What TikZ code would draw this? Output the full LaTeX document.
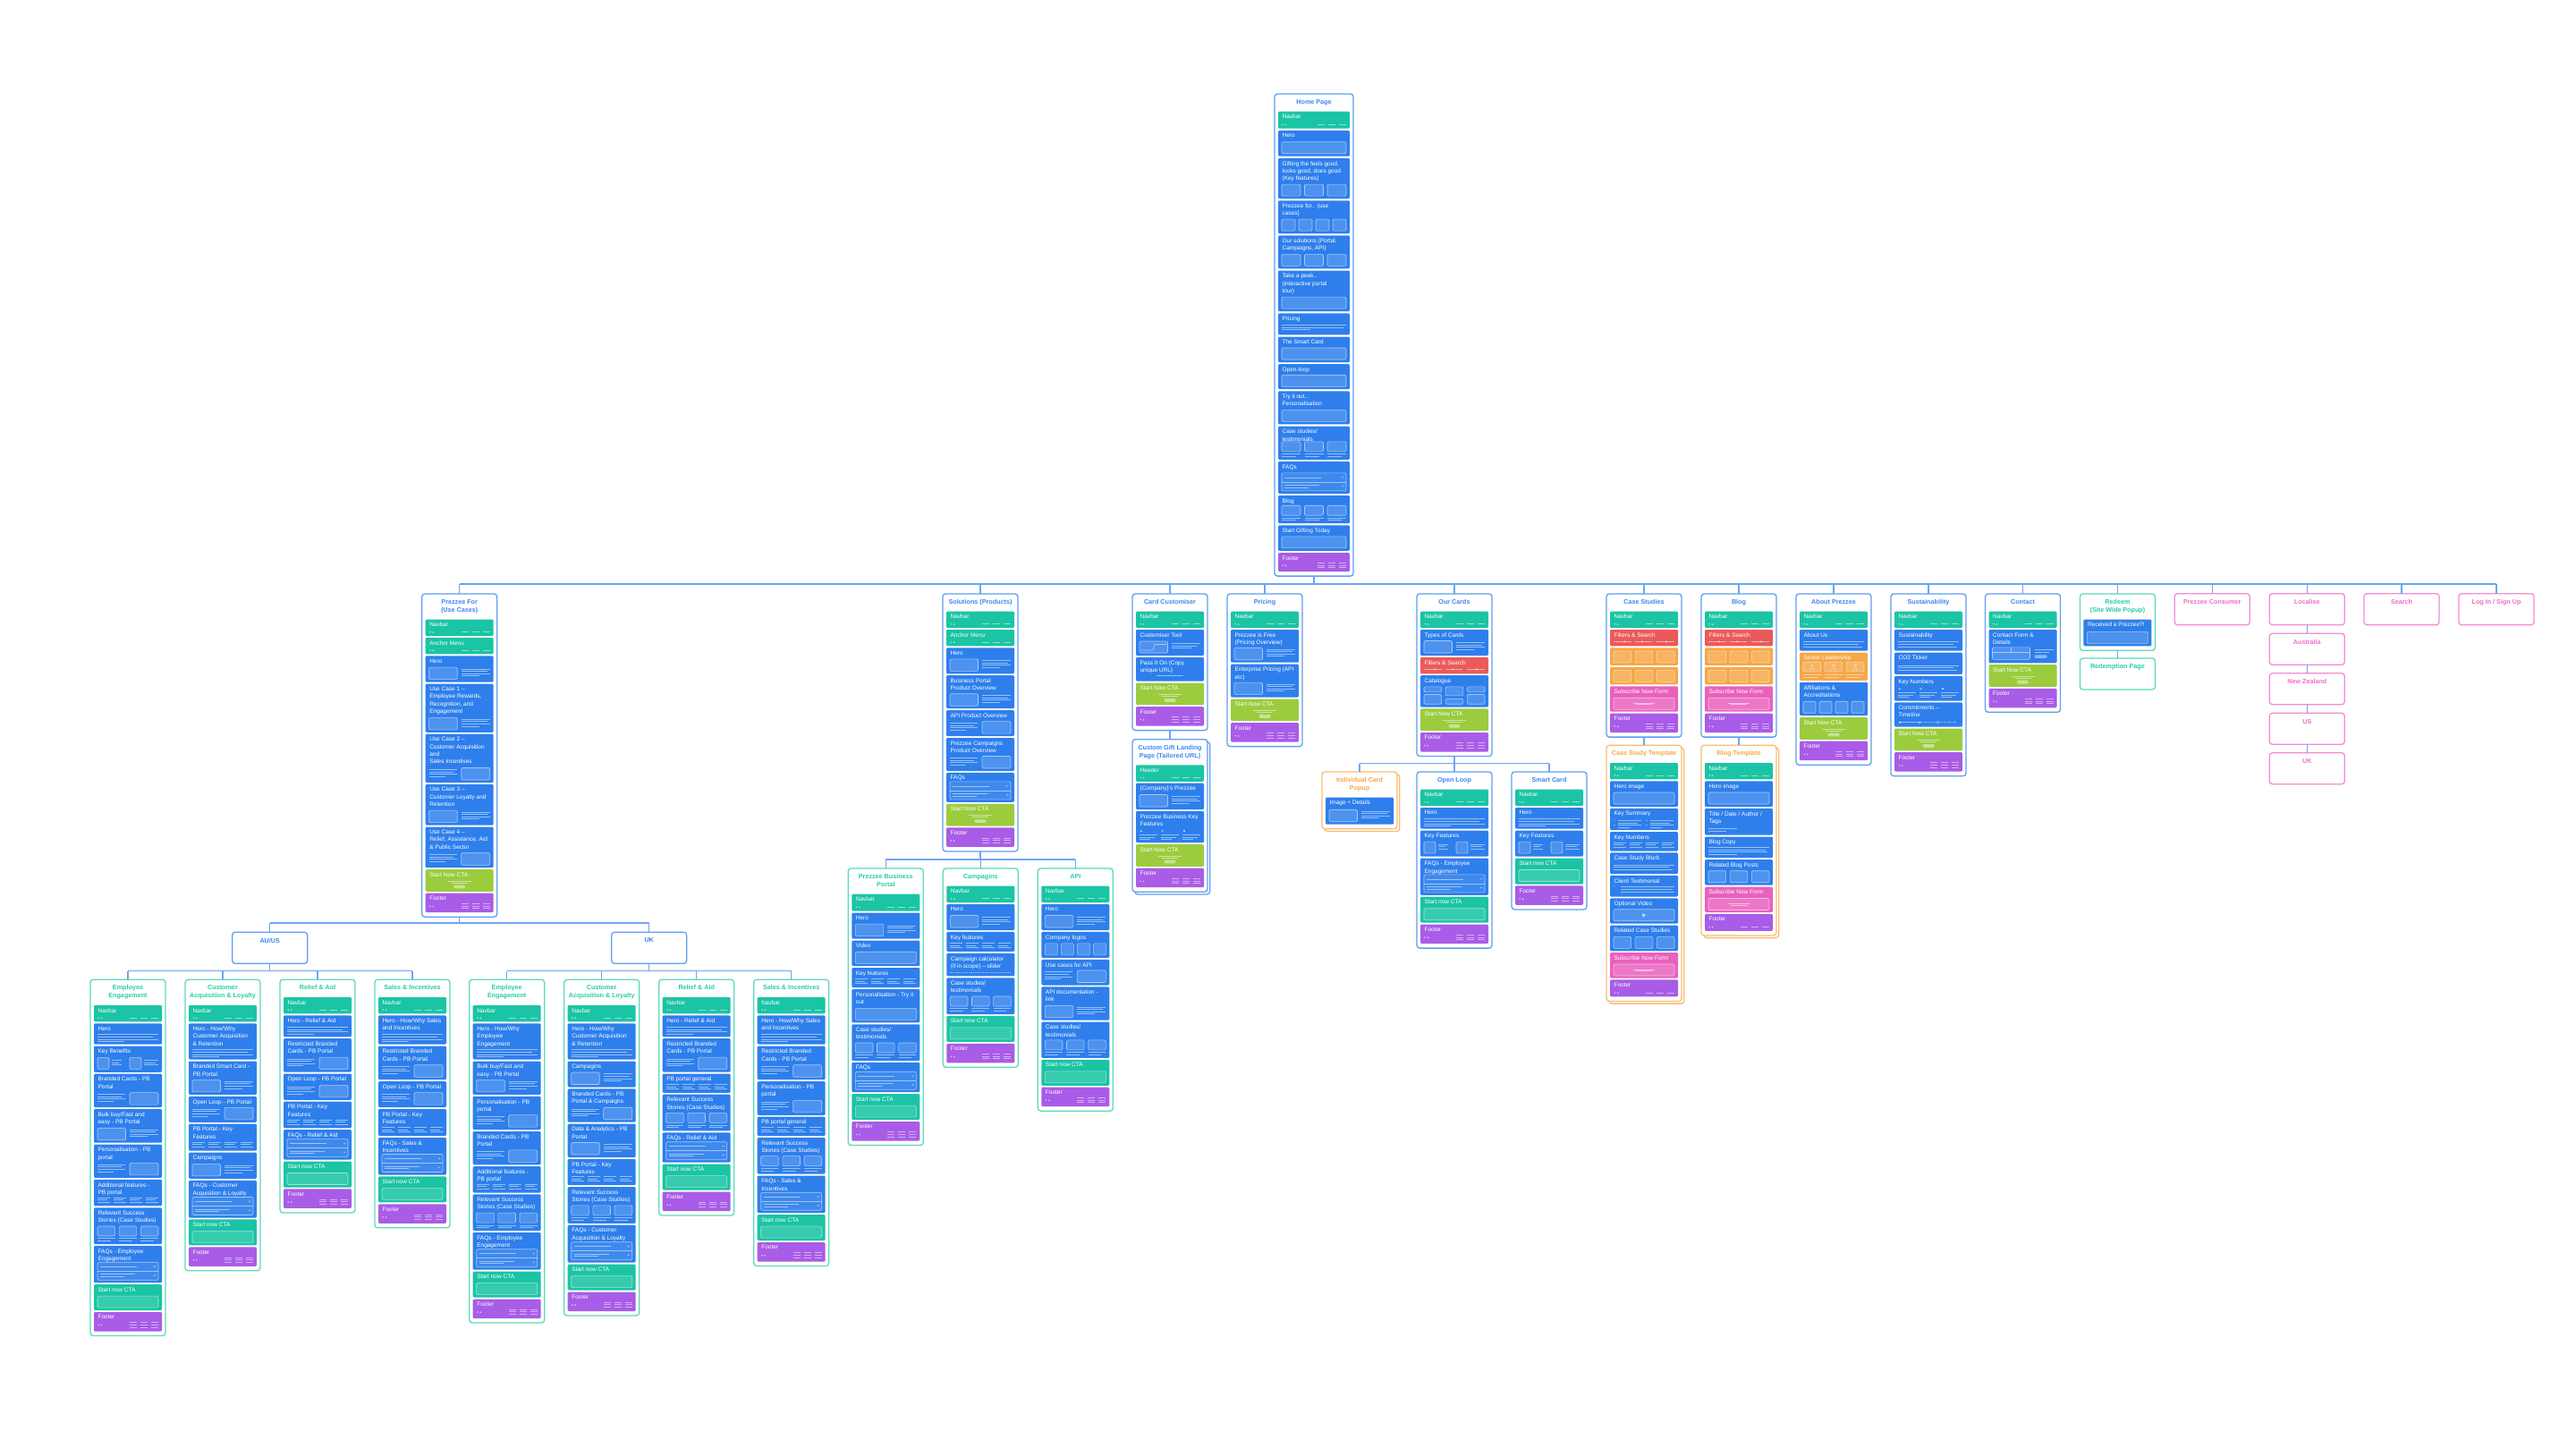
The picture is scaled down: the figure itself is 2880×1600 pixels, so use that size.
\documentclass[tikz,border=0pt]{standalone}
\usepackage{fontspec}
\setmainfont{Liberation Sans}
\usetikzlibrary{backgrounds}
\definecolor{sg}{RGB}{27,196,164}
\definecolor{sb}{RGB}{46,127,236}
\definecolor{sl}{RGB}{155,204,62}
\definecolor{spu}{RGB}{169,92,231}
\definecolor{sr}{RGB}{235,90,90}
\definecolor{so}{RGB}{246,168,72}
\definecolor{spi}{RGB}{234,96,190}
\definecolor{bdb}{RGB}{95,158,242}
\definecolor{bdt}{RGB}{90,218,190}
\definecolor{bdo}{RGB}{249,188,115}
\definecolor{bdp}{RGB}{242,140,212}
\definecolor{ttb}{RGB}{60,134,240}
\definecolor{ttt}{RGB}{40,204,166}
\definecolor{tto}{RGB}{246,168,72}
\definecolor{ttp}{RGB}{238,108,200}
\definecolor{cn}{RGB}{110,165,242}
\newcommand\secfont{\fontsize{6.5}{8.3}\selectfont}
\newcommand\ttlfont{\fontsize{7.2}{9}\selectfont\bfseries}
\tikzset{
 stx/.style={anchor=north west, inner sep=0, align=left, font=\secfont, text=white},
 ttl/.style={anchor=north, inner sep=0, align=center, font=\ttlfont},
 cardb/.style={line width=1.3, rounded corners=3.2},
 conn/.style={draw=cn, line width=1.4},
 dl/.style={draw=white, draw opacity=.5, line width=.6},
 db/.style={draw=white, draw opacity=.55, line width=.6, fill=white, fill opacity=.15, rounded corners=1.3},
}
\def\CW{84}\def\sgap{1.9}
\newcommand\CardBegin[7]{%
 \xdef\cname{#1}\xdef\ckind{#2}\xdef\crdx{#3}\xdef\crdyt{#4}\xdef\cstk{#7}%
 \xdef\secL{\fpeval{#3+4}}\xdef\secR{\fpeval{#3+\CW-4}}\xdef\sw{\fpeval{\CW-8}}%
 \xdef\crdy{\fpeval{#4+10.7+9*#6}}%
 \node[ttl, text=tt#2] at ({#3+\CW/2},{#4+6}) {#5};%
}
\newcommand\SEC[4]{%
 \xdef\secT{\crdy}\xdef\secB{\fpeval{\crdy+#2}}%
 \fill[fill=#1, rounded corners=1.2] (\secL,\secT) rectangle (\secR,\secB);%
 \node[stx] at ({\secL+4.4},{\secT+3.3}) {#3};%
 \begin{scope}[shift={(\secL,\secB)}]#4\end{scope}%
 \xdef\crdy{\fpeval{\secB+\sgap}}%
}
\newcommand\CardEnd{%
 \xdef\crdyb{\fpeval{\crdy-\sgap+5}}\xdef\crdh{\fpeval{\crdyb-\crdyt}}%
 \begin{scope}[on background layer]%
 \ifnum\cstk=1 \draw[cardb, draw=bd\ckind, fill=white] ({\crdx+2.7},{\crdyt+2.7}) rectangle ({\crdx+\CW+2.7},{\crdyb+2.7});\fi
 \draw[cardb, draw=bd\ckind, fill=white] (\crdx,\crdyt) rectangle ({\crdx+\CW},\crdyb);%
 \end{scope}%
 \node[inner sep=0, outer sep=0, minimum width=\CW pt, minimum height=\crdh pt, anchor=north west] (\cname) at (\crdx,\crdyt) {};%
}
\newcommand\BOX[5]{%
 \begin{scope}[on background layer]\draw[cardb, draw=bd#2, fill=white] (#3,#4) rectangle ({#3+84},{#4+35});\end{scope}%
 \node[ttl, text=tt#2] at ({#3+42},{#4+6.5}) {#5};%
 \node[inner sep=0, outer sep=0, minimum width=84pt, minimum height=35pt, anchor=north west] (#1) at (#3,#4) {};%
}
% decorations (origin = bottom-left of section, negative y = up)
\newcommand\dNav{%
 \fill[white,opacity=.6] (5.2,-4.4) circle (.9);
 \fill[white,opacity=.6] (7.5,-3.5) -- (9.7,-3.5) -- (8.6,-5.3) -- cycle;
 \draw[dl] ({\sw-36},-4.4) -- ({\sw-28},-4.4) ({\sw-24},-4.4) -- ({\sw-16},-4.4) ({\sw-12},-4.4) -- ({\sw-4},-4.4);}
\newcommand\dFoot{%
 \fill[white,opacity=.6] (5.2,-7) circle (.9);
 \fill[white,opacity=.6] (7.5,-6.1) -- (9.7,-6.1) -- (8.6,-7.9) -- cycle;
 \foreach \q in {36,24,12}{\draw[dl] ({\sw-\q},-10) -- ({\sw-\q+8},-10) ({\sw-\q},-7.3) -- ({\sw-\q+8},-7.3) ({\sw-\q},-4.6) -- ({\sw-\q+8},-4.6);}}
\newcommand\dCta{%
 \draw[dl] ({\sw/2-13},-12) -- ({\sw/2+13},-12) ({\sw/2-9},-9.8) -- ({\sw/2+9},-9.8);
 \fill[white,opacity=.45,rounded corners=1.4] ({\sw/2-6.5},-3.4) rectangle ({\sw/2+6.5},-7.2);}
\newcommand\dCtaBox{\draw[db, fill opacity=.12] (4,-3) rectangle ({\sw-4},-16);}
\newcommand\dBox{\draw[db] (4,-3) rectangle ({\sw-4},-16);}
\newcommand\dBoxLines{\draw[db] (4,-3) rectangle (35.5,-16.5);
 \draw[dl] (40,-14.8) -- ({\sw-4},-14.8) (40,-12.2) -- ({\sw-7},-12.2) (40,-9.6) -- ({\sw-4},-9.6) (40,-7) -- ({\sw-16},-7);}
\newcommand\dLinesBox{\draw[db] (40,-3) rectangle ({\sw-4},-16.5);
 \draw[dl] (4,-14.8) -- (35,-14.8) (4,-12.2) -- (31,-12.2) (4,-9.6) -- (35,-9.6) (4,-7) -- (22,-7);}
\newcommand\dLines{\draw[dl] (4,-11) -- ({\sw-4},-11) (4,-8.3) -- ({\sw-10},-8.3) (4,-5.6) -- ({\sw-4},-5.6) (4,-3) -- (34,-3);}
\newcommand\dLinesThree{\draw[dl] (4,-10) -- ({\sw-4},-10) (4,-7.3) -- ({\sw-10},-7.3) (4,-4.6) -- ({\sw-6},-4.6);}
\newcommand\dLinesFour{\draw[dl] (4,-12) -- ({\sw-4},-12) (4,-9.4) -- ({\sw-8},-9.4) (4,-6.8) -- ({\sw-6},-6.8) (4,-4.2) -- (36,-4.2);}
\newcommand\dPricing{\draw[dl] (4,-11) -- ({\sw-4},-11) (4,-8.4) -- ({\sw-7},-8.4) (4,-5.8) -- (36,-5.8);}
\newcommand\dBoxesThree{\foreach \i in {0,1,2}{\pgfmathsetmacro\xa{4+\i*((\sw-17)/3+4.5)}\draw[db] (\xa,-3) rectangle ({\xa+(\sw-17)/3},-16);}}
\newcommand\dBoxesThreeL{\foreach \i in {0,1,2}{\pgfmathsetmacro\xa{4+\i*((\sw-17)/3+4.5)}\pgfmathsetmacro\xb{\xa+(\sw-17)/3}\draw[db] (\xa,-9) rectangle (\xb,-20);\draw[dl] (\xa,-6.3) -- (\xb,-6.3) (\xa,-3.7) -- ({\xb-5},-3.7);}}
\newcommand\dBoxesFour{\foreach \i in {0,...,3}{\pgfmathsetmacro\xa{4+\i*((\sw-20)/4+4)}\draw[db] (\xa,-3) rectangle ({\xa+(\sw-20)/4},-16);}}
\newcommand\dColsFour{\foreach \i in {0,...,3}{\pgfmathsetmacro\xa{4+\i*((\sw-20)/4+4)}\pgfmathsetmacro\xb{\xa+(\sw-20)/4}\draw[dl] (\xa,-9.5) -- (\xb,-9.5) (\xa,-7) -- ({\xb-3},-7) (\xa,-4.5) -- (\xb,-4.5);}}
\newcommand\dFaq{\draw[db, fill opacity=.08] (4,-3) rectangle ({\sw-4},-23);
 \draw[dl] (4,-13) -- ({\sw-4},-13);
 \draw[dl] (7,-18) -- (48,-18) (7,-9.6) -- (46,-9.6) (7,-7) -- (34,-7);
 \draw[dl] ({\sw-9.2},-18.8) -- ({\sw-8},-17.6) -- ({\sw-6.8},-18.8);
 \draw[dl] ({\sw-9.2},-7.6) -- ({\sw-8},-8.8) -- ({\sw-6.8},-7.6);}
\newcommand\dFilter{\draw[dl] (4,-5) -- (24,-5) (28,-5) -- (47,-5) (52,-5) -- ({\sw-4},-5);
 \fill[white,opacity=.75] (16,-5) circle (1) (36,-5) circle (1) (63,-5) circle (1);}
\newcommand\dForm{\draw[db] (4,-2.5) rectangle ({\sw-4},-15.5);
 \draw[dl] ({\sw/2-12},-9.7) -- ({\sw/2+12},-9.7) ({\sw/2-9},-8) -- ({\sw/2+9},-8);}
\newcommand\dPeople{\foreach \i in {0,1,2}{\pgfmathsetmacro\xa{4+\i*((\sw-17)/3+4.5)}\pgfmathsetmacro\xb{\xa+(\sw-17)/3}\pgfmathsetmacro\xm{(\xa+\xb)/2}
 \draw[db] (\xa,-10) rectangle (\xb,-20.5);
 \draw[dl] (\xm,-16.8) circle (1.5);
 \draw[dl] ({\xm-3.2},-11) arc[start angle=180, end angle=360, x radius=3.2, y radius=2.6];
 \draw[dl] (\xa,-6.6) -- (\xb,-6.6) (\xa,-4.1) -- ({\xb-4},-4.1);}}
\newcommand\dTimeline{\draw[dl] (6,-5) -- (27,-5);
 \draw[dl, dash pattern=on 1.5pt off 1pt] (29,-5) -- (46.5,-5) (50,-5) -- (66,-5);
 \fill[white,opacity=.6] (6,-5) circle (1.3) (28,-5) circle (1.3);
 \draw[dl] (48.3,-5) circle (1.4); \draw[dl] (67,-6.3) -- (68.3,-5) -- (67,-3.7);}
\newcommand\dVideo{\draw[db] (4,-3) rectangle ({\sw-4},-16);
 \fill[white,opacity=.65] ({\sw/2-1.6},-7.3) -- ({\sw/2-1.6},-11.7) -- ({\sw/2+2.2},-9.5) -- cycle;}
\newcommand\dQuote{\node[text=white, text opacity=.7, font=\fontsize{6}{6}\selectfont, inner sep=0, anchor=north west] at (3.5,-12) {``};
 \draw[dl] (12,-11) -- ({\sw-4},-11) (12,-8.3) -- ({\sw-6},-8.3) (12,-5.6) -- ({\sw-4},-5.6);}
\newcommand\dBullets{\foreach \cc in {4,40}{\fill[white,opacity=.6] ({\cc+1},-11) circle (.7) ({\cc+1},-5.6) circle (.7);
 \draw[dl] ({\cc+5},-11) -- ({\cc+31},-11) ({\cc+5},-8.3) -- ({\cc+27},-8.3) ({\cc+5},-5.6) -- ({\cc+31},-5.6) ({\cc+5},-3) -- ({\cc+18},-3);}}
\newcommand\dIconsThree{\foreach \i in {0,1,2}{\pgfmathsetmacro\xa{4+\i*((\sw-16)/3+4)}\pgfmathsetmacro\xb{\xa+(\sw-16)/3}\draw[dl] (\xa,-9) -- (\xb,-9) (\xa,-6.4) -- ({\xb-3},-6.4) (\xa,-3.8) -- ({\xb-8},-3.8);}
 \fill[white,opacity=.6] (4.5,-12.4) -- (7,-12.4) -- (5.75,-14.6) -- cycle;
 \draw[dl] ({4+(\sw-16)/3+4.5},-12.4) -- ++(2,-2) ({4+(\sw-16)/3+4.5},-14.4) -- ++(2,2);
 \fill[white,opacity=.6] ({4+2*((\sw-16)/3+4)+0.5},-12.4) rectangle ++(2,-2);}
\newcommand\dKeyFeat{\draw[db] (4,-3.5) rectangle (17,-16.5);
 \draw[dl] (20,-13.5) -- (31,-13.5) (20,-11) -- (28,-11) (20,-8.5) -- (31,-8.5);
 \draw[db] (40,-3.5) rectangle (53,-16.5);
 \draw[dl] (56,-13.5) -- ({\sw-4},-13.5) (56,-11) -- ({\sw-7},-11) (56,-8.5) -- ({\sw-4},-8.5);}
\newcommand\dStep{\draw[db] (4,-3) rectangle (35.5,-16);
 \draw[dl] (6,-6) -- (19,-6) -- (21,-12.5) -- (34,-12.5);
 \draw[dl] (40,-13.8) -- ({\sw-4},-13.8) (40,-11.2) -- ({\sw-8},-11.2) (40,-8.6) -- ({\sw-14},-8.6);}
\newcommand\dCenterLine{\draw[dl] ({\sw/2-15},-6) -- ({\sw/2+15},-6);}
\newcommand\dTitleLines{\draw[dl] (4,-7) -- (36,-7) (4,-4.5) -- (24,-4.5);}
\newcommand\dContact{\draw[db] (4,-4) rectangle (46,-17.5);
 \draw[dl] (4,-12.5) -- (46,-12.5) (25,-17.5) -- (25,-12.5);
 \draw[dl] (51,-15) -- ({\sw-4},-15) (51,-12.5) -- ({\sw-9},-12.5);
 \fill[white,opacity=.45,rounded corners=1.2] (51,-5.5) rectangle (65,-9);}
\newcommand\dDash{\draw[dl, dash pattern=on 1.3pt off 1pt] (4,-4.5) -- ({\sw-4},-4.5);}
\newcommand\dCatalogue{\foreach \i in {0,1,2}{\pgfmathsetmacro\xa{4+\i*((\sw-17)/3+4.5)}\pgfmathsetmacro\xb{\xa+(\sw-17)/3}%
 \ifnum\i=1 \draw[db] (\xa,-12.6) rectangle (\xb,-22.6); \draw[db] (\xa,-3.3) rectangle (\xb,-9.3);%
 \else \draw[db] (\xa,-16.6) rectangle (\xb,-22.6); \draw[db] (\xa,-3.3) rectangle (\xb,-14);\fi}}
% section shortcuts
\newcommand\Nav[1][Navbar]{\SEC{sg}{18.4}{#1}{\dNav}}
\newcommand\Anc{\SEC{sg}{18.4}{Anchor Menu}{\dNav}}
\newcommand\Foot{\SEC{spu}{21.5}{Footer}{\dFoot}}
\newcommand\FootD{\SEC{spu}{19}{Footer}{\dNav}}
\newcommand\CtaL{\SEC{sl}{24.7}{Start Now CTA}{\dCta}}
\newcommand\CtaT{\SEC{sg}{29}{Start now CTA}{\dCtaBox}}
\newcommand\Blu[3]{\SEC{sb}{#1}{#2}{#3}}
\begin{document}
\begin{tikzpicture}[x=1pt,y=-1pt]
\useasboundingbox (0,0) rectangle (2880,1600);
\begin{scope}[on background layer]\fill[white] (0,0) rectangle (2880,1600);\end{scope}

% ---------- Home ----------
\def\CW{88}\def\sgap{2.2}
\CardBegin{home}{b}{1425}{105}{Home Page}{1}{0}
\SEC{sg}{19}{Navbar}{\dNav}
\Blu{28.8}{Hero}{\dBox}
\Blu{45.2}{Gifting the feels good,\\looks good, does good\\(Key features)}{\dBoxesThree}
\Blu{36.8}{Prezzee for.. (use\\cases)}{\dBoxesFour}
\Blu{37}{Our solutions (Portal,\\Campaigns, API)}{\dBoxesThree}
\Blu{45.6}{Take a peek..\\(interactive portal\\tour)}{\dBox}
\Blu{24}{Pricing}{\dPricing}
\Blu{28.5}{The Smart Card}{\dBox}
\Blu{28}{Open-loop}{\dBox}
\Blu{37}{Try it out...\\Personalisation}{\dBox}
\Blu{37.2}{Case studies/\\testimonials}{\dBoxesThreeL}
\Blu{35.8}{FAQs}{\dFaq}
\Blu{31.2}{Blog}{\dBoxesThreeL}
\Blu{28.5}{Start Gifting Today}{\dBox}
\SEC{spu}{21}{Footer}{\dFoot}
\CardEnd
\def\CW{84}\def\sgap{1.9}

% ---------- Level 1 ----------
\CardBegin{proc}{b}{471.7}{664}{Prezzee For\\(Use Cases)}{2}{0}
\Nav\Anc
\Blu{29.3}{Hero}{\dBoxLines}
\Blu{54.3}{Use Case 1 –\\Employee Rewards,\\Recognition, and\\Engagement}{\dBoxLines}
\Blu{54.3}{Use Case 2 –\\Customer Acquisition\\and\\Sales Incentives}{\dLinesBox}
\Blu{45.7}{Use Case 3 –\\Customer Loyalty and\\Retention}{\dBoxLines}
\Blu{45.7}{Use Case 4 –\\Relief, Assistance, Aid\\\& Public Sector}{\dLinesBox}
\CtaL\Foot
\CardEnd

\CardBegin{sol}{b}{1054}{664}{Solutions (Products)}{1}{0}
\Nav\Anc
\Blu{29}{Hero}{\dBoxLines}
\Blu{37}{Business Portal\\Product Overview}{\dBoxLines}
\Blu{29}{API Product Overview}{\dLinesBox}
\Blu{37}{Prezzee Campaigns\\Product Overview}{\dLinesBox}
\Blu{33}{FAQs}{\dFaq}
\CtaL\Foot
\CardEnd

\CardBegin{cust}{b}{1266}{664}{Card Customiser}{1}{0}
\Nav
\Blu{29}{Customiser Tool}{\dStep}
\Blu{26.7}{Pass It On (Copy\\unique URL)}{\dCenterLine}
\CtaL\Foot
\CardEnd

\CardBegin{gift}{b}{1266}{826.7}{Custom Gift Landing\\Page (Tailored URL)}{2}{1}
\Nav[Header]
\Blu{29.3}{\{Company\}'s Prezzee}{\dBoxLines}
\Blu{35.3}{Prezzee Business Key\\Features}{\dIconsThree}
\CtaL\Foot
\CardEnd

\CardBegin{price}{b}{1372}{664}{Pricing}{1}{0}
\Nav
\Blu{36.7}{Prezzee is Free\\(Pricing Overview)}{\dBoxLines}
\Blu{37}{Enterprise Pricing (API\\etc)}{\dBoxLines}
\CtaL\Foot
\CardEnd

\CardBegin{cards}{b}{1584}{664}{Our Cards}{1}{0}
\Nav
\Blu{29}{Types of Cards}{\dBoxLines}
\SEC{sr}{18.4}{Filters \& Search}{\dFilter}
\Blu{35.3}{Catalogue}{\dCatalogue}
\CtaL\Foot
\CardEnd

\CardBegin{indiv}{o}{1478}{863}{Individual Card\\Popup}{2}{1}
\Blu{30}{Image + Details}{\dBoxLines}
\CardEnd

\CardBegin{open}{b}{1584}{863}{Open Loop}{1}{0}
\Nav
\Blu{23.7}{Hero}{\dLines}
\Blu{29}{Key Features}{\dKeyFeat}
\Blu{41.3}{FAQs - Employee\\Engagement}{\dFaq}
\CtaT\Foot
\CardEnd

\CardBegin{smart}{b}{1690}{863}{Smart Card}{1}{0}
\Nav
\Blu{23.7}{Hero}{\dLines}
\Blu{29}{Key Features}{\dKeyFeat}
\CtaT\Foot
\CardEnd

\CardBegin{cases}{b}{1796}{664}{Case Studies}{1}{0}
\Nav
\SEC{sr}{18.4}{Filters \& Search}{\dFilter}
\SEC{so}{19.6}{}{\dBoxesThree}
\SEC{so}{19.6}{}{\dBoxesThree}
\SEC{spi}{28.4}{Subscribe Now Form}{\dForm}
\Foot
\CardEnd

\CardBegin{blog}{b}{1902}{664}{Blog}{1}{0}
\Nav
\SEC{sr}{18.4}{Filters \& Search}{\dFilter}
\SEC{so}{19.6}{}{\dBoxesThree}
\SEC{so}{19.6}{}{\dBoxesThree}
\SEC{spi}{28.4}{Subscribe Now Form}{\dForm}
\Foot
\CardEnd

\CardBegin{cst}{o}{1796}{833.3}{Case Study Template}{1}{1}
\Nav
\Blu{28.7}{Hero image}{\dBox}
\Blu{24.3}{Key Summary}{\dBullets}
\Blu{21.4}{Key Numbers}{\dColsFour}
\Blu{23.6}{Case Study Blurb}{\dLinesThree}
\Blu{23.6}{Client Testimonial}{\dQuote}
\Blu{28.3}{Optional Video}{\dVideo}
\Blu{28.7}{Related Case Studies}{\dBoxesThree}
\SEC{spi}{28.3}{Subscribe Now Form}{\dForm}
\FootD
\CardEnd

\CardBegin{bt}{o}{1902}{833.3}{Blog Template}{1}{1}
\Nav
\Blu{28.7}{Hero image}{\dBox}
\Blu{29.7}{Title / Date / Author /\\Tags}{\dTitleLines}
\Blu{23.7}{Blog Copy}{\dLinesFour}
\Blu{28.6}{Related Blog Posts}{\dBoxesThree}
\SEC{spi}{28.4}{Subscribe Now Form}{\dForm}
\FootD
\CardEnd

\CardBegin{about}{b}{2008}{664}{About Prezzee}{1}{0}
\Nav
\Blu{23.7}{About Us}{\dLinesThree}
\SEC{so}{31.3}{Senior Leadership}{\dPeople}
\Blu{37.4}{Affiliations \&\\Accreditations}{\dBoxesFour}
\CtaL\Foot
\CardEnd

\CardBegin{sust}{b}{2114}{664}{Sustainability}{1}{0}
\Nav
\Blu{23.7}{Sustainability}{\dLinesThree}
\Blu{24.3}{CO2 Ticker}{\dLinesThree}
\Blu{27.7}{Key Numbers}{\dIconsThree}
\Blu{27.3}{Commitments –\\Timeline}{\dTimeline}
\CtaL\Foot
\CardEnd

\CardBegin{contact}{b}{2219.5}{664}{Contact}{1}{0}
\Nav
\Blu{37.3}{Contact Form \&\\Details}{\dContact}
\CtaL\Foot
\CardEnd

\CardBegin{redeem}{t}{2325.4}{664}{Redeem\\(Site Wide Popup)}{2}{0}
\Blu{29.6}{Received a Prezzee?!}{\dBox}
\CardEnd
\BOX{redpage}{t}{2325.4}{736}{Redemption Page}

\BOX{consumer}{p}{2431.3}{663.7}{Prezzee Consumer}
\BOX{local}{p}{2537.3}{663.7}{Localise}
\BOX{search}{p}{2643}{663.7}{Search}
\BOX{login}{p}{2749}{663.7}{Log In / Sign Up}
\BOX{aus}{p}{2537.3}{708.3}{Australia}
\BOX{nz}{p}{2537.3}{752.7}{New Zealand}
\BOX{us}{p}{2537.3}{797.3}{US}
\BOX{ukl}{p}{2537.3}{841.7}{UK}

% ---------- Solutions children ----------
\CardBegin{pbp}{t}{948.3}{971}{Prezzee Business\\Portal}{2}{0}
\SEC{sg}{19}{Navbar}{\dNav}
\Blu{29}{Hero}{\dBoxLines}
\Blu{28.7}{Video}{\dBox}
\Blu{22}{Key features}{\dColsFour}
\Blu{37.4}{Personalisation - Try it\\out}{\dBox}
\Blu{40.7}{Case studies/\\testimonials}{\dBoxesThreeL}
\Blu{33.3}{FAQs}{\dFaq}
\CtaT\Foot
\CardEnd

\CardBegin{camp}{t}{1054.3}{971}{Campagins}{1}{0}
\Nav
\Blu{29}{Hero}{\dBoxLines}
\Blu{22}{Key features}{\dColsFour}
\Blu{25.6}{Campaign calculator\\(if in scope) – slider}{\dDash}
\Blu{40.7}{Case studies/\\testimonials}{\dBoxesThreeL}
\CtaT\Foot
\CardEnd

\CardBegin{api}{t}{1160.3}{971}{API}{1}{0}
\Nav
\Blu{29}{Hero}{\dBoxLines}
\Blu{29}{Company logos}{\dBoxesFour}
\Blu{28.7}{Use cases for API}{\dLinesBox}
\Blu{37.3}{API documentation -\\link}{\dBoxLines}
\Blu{40.3}{Case studies/\\testimonials}{\dBoxesThreeL}
\CtaT\Foot
\CardEnd

% ---------- Use case regions ----------
\BOX{auus}{b}{259.7}{1042.3}{AU/US}
\BOX{ukg}{b}{683.7}{1042.3}{UK}

\CardBegin{a1}{t}{101}{1095.3}{Employee\\Engagement}{2}{0}
\Nav
\Blu{23.3}{Hero}{\dLines}
\Blu{29.3}{Key Benefits}{\dKeyFeat}
\Blu{37.4}{Branded Cards - PB\\Portal}{\dLinesBox}
\Blu{37.7}{Bulk buy/Fast and\\easy - PB Portal}{\dBoxLines}
\Blu{37.3}{Personalisation - PB\\portal}{\dLinesBox}
\Blu{29.6}{Additional features -\\PB portal}{\dColsFour}
\Blu{40.7}{Relevant Success\\Stories (Case Studies)}{\dBoxesThreeL}
\Blu{41.3}{FAQs - Employee\\Engagement}{\dFaq}
\CtaT\Foot
\CardEnd

\CardBegin{a2}{t}{207}{1095.3}{Customer\\Acquisition \& Loyalty}{2}{0}
\Nav
\Blu{40.3}{Hero - How/Why\\Customer Acquisition\\\& Retention}{\dLines}
\Blu{37.4}{Branded Smart Card -\\PB Portal}{\dBoxLines}
\Blu{29}{Open Loop - PB Portal}{\dLinesBox}
\Blu{30}{PB Portal - Key\\Features}{\dColsFour}
\Blu{29.3}{Campaigns}{\dBoxLines}
\Blu{41.7}{FAQs - Customer\\Acquisition \& Loyalty}{\dFaq}
\CtaT\Foot
\CardEnd

\CardBegin{a3}{t}{313}{1095.3}{Relief \& Aid}{1}{0}
\Nav
\Blu{24}{Hero - Relief \& Aid}{\dLines}
\Blu{37.4}{Restricted Branded\\Cards - PB Portal}{\dLinesBox}
\Blu{29.3}{Open Loop - PB Portal}{\dLinesBox}
\Blu{29.6}{PB Portal - Key\\Features}{\dColsFour}
\Blu{33.4}{FAQs - Relief \& Aid}{\dFaq}
\CtaT\Foot
\CardEnd

\CardBegin{a4}{t}{419}{1095.3}{Sales \& Incentives}{1}{0}
\Nav
\Blu{32.3}{Hero - How/Why Sales\\and Incentives}{\dLines}
\Blu{37.7}{Restricted Branded\\Cards - PB Portal}{\dLinesBox}
\Blu{29}{Open Loop - PB Portal}{\dLinesBox}
\Blu{30}{PB Portal - Key\\Features}{\dColsFour}
\Blu{41.6}{FAQs - Sales \&\\Incentives}{\dFaq}
\CtaT\Foot
\CardEnd

\CardBegin{u1}{t}{524.7}{1095.3}{Employee\\Engagement}{2}{0}
\Nav
\Blu{40.3}{Hero - How/Why\\Employee\\Engagement}{\dLines}
\Blu{37.4}{Bulk buy/Fast and\\easy - PB Portal}{\dBoxLines}
\Blu{37.3}{Personalisation - PB\\portal}{\dLinesBox}
\Blu{37.3}{Branded Cards - PB\\Portal}{\dLinesBox}
\Blu{29.3}{Additional features -\\PB portal}{\dColsFour}
\Blu{40.7}{Relevant Success\\Stories (Case Studies)}{\dBoxesThreeL}
\Blu{41.7}{FAQs - Employee\\Engagement}{\dFaq}
\CtaT\Foot
\CardEnd

\CardBegin{u2}{t}{630.7}{1095.3}{Customer\\Acquisition \& Loyalty}{2}{0}
\Nav
\Blu{40.3}{Hero - How/Why\\Customer Acquisition\\\& Retention}{\dLines}
\Blu{29}{Campagins}{\dBoxLines}
\Blu{37.3}{Branded Cards - PB\\Portal \& Campaigns}{\dLinesBox}
\Blu{37.4}{Data \& Analytics - PB\\Portal}{\dBoxLines}
\Blu{29.3}{PB Portal - Key\\Features}{\dColsFour}
\Blu{40.7}{Relevant Success\\Stories (Case Studies)}{\dBoxesThreeL}
\Blu{42}{FAQs - Customer\\Acquisition \& Loyalty}{\dFaq}
\CtaT\Foot
\CardEnd

\CardBegin{u3}{t}{736.7}{1095.3}{Relief \& Aid}{1}{0}
\Nav
\Blu{24}{Hero - Relief \& Aid}{\dLines}
\Blu{37.4}{Restricted Branded\\Cards - PB Portal}{\dLinesBox}
\Blu{21.3}{PB portal general}{\dColsFour}
\Blu{40.7}{Relevant Success\\Stories (Case Studies)}{\dBoxesThreeL}
\Blu{33.4}{FAQs - Relief \& Aid}{\dFaq}
\CtaT\Foot
\CardEnd

\CardBegin{u4}{t}{842.7}{1095.3}{Sales \& Incentives}{1}{0}
\Nav
\Blu{32.3}{Hero - How/Why Sales\\and Incentives}{\dLines}
\Blu{37.7}{Restricted Branded\\Cards - PB Portal}{\dLinesBox}
\Blu{37.7}{Personalisation - PB\\portal}{\dLinesBox}
\Blu{21.3}{PB portal general}{\dColsFour}
\Blu{40.7}{Relevant Success\\Stories (Case Studies)}{\dBoxesThreeL}
\Blu{41.7}{FAQs - Sales \&\\Incentives}{\dFaq}
\CtaT\Foot
\CardEnd

% ---------- connectors ----------
\coordinate (bA) at (0,653);
\draw[conn] (home.south) -- (home.south |- bA);
\draw[conn] (proc.north |- bA) -- (login.north |- bA);
\foreach \n in {proc,sol,cust,price,cards,cases,blog,about,sust,contact,redeem,consumer,local,search,login}{\draw[conn] (\n.north |- bA) -- (\n.north);}

\coordinate (bB) at (0,1032);
\draw[conn] (proc.south) -- (proc.south |- bB);
\draw[conn] (auus.north |- bB) -- (ukg.north |- bB);
\foreach \n in {auus,ukg}{\draw[conn] (\n.north |- bB) -- (\n.north);}

\coordinate (bC) at (0,1085.7);
\draw[conn] (auus.south) -- (auus.south |- bC);
\draw[conn] (a1.north |- bC) -- (a4.north |- bC);
\draw[conn] (ukg.south) -- (ukg.south |- bC);
\draw[conn] (u1.north |- bC) -- (u4.north |- bC);
\foreach \n in {a1,a2,a3,a4,u1,u2,u3,u4}{\draw[conn] (\n.north |- bC) -- (\n.north);}

\coordinate (bD) at (0,961);
\draw[conn] (sol.south) -- (sol.south |- bD);
\draw[conn] (pbp.north |- bD) -- (api.north |- bD);
\foreach \n in {pbp,camp,api}{\draw[conn] (\n.north |- bD) -- (\n.north);}

\draw[conn] (cust.south) -- (gift.north);

\coordinate (bE) at (0,853.7);
\draw[conn] (cards.south) -- (cards.south |- bE);
\draw[conn] (indiv.north |- bE) -- (smart.north |- bE);
\foreach \n in {indiv,open,smart}{\draw[conn] (\n.north |- bE) -- (\n.north);}

\draw[conn] (cases.south) -- (cst.north);
\draw[conn] (blog.south) -- (bt.north);
\draw[conn] (redeem.south) -- (redpage.north);
\draw[conn] (local.south) -- (aus.north);
\draw[conn] (aus.south) -- (nz.north);
\draw[conn] (nz.south) -- (us.north);
\draw[conn] (us.south) -- (ukl.north);
\end{tikzpicture}
\end{document}
